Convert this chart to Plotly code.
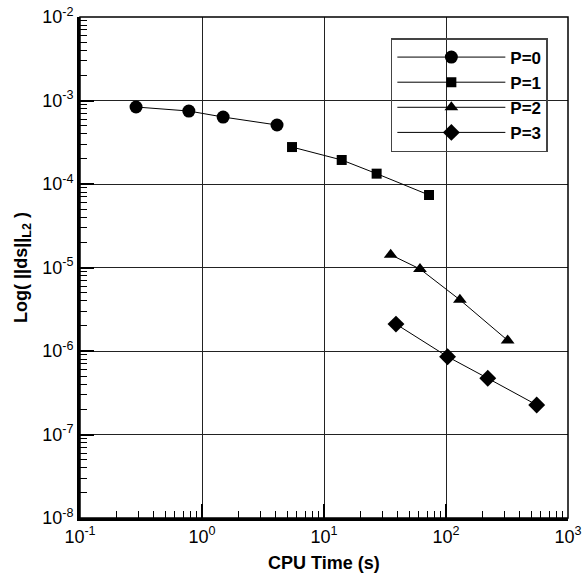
import plotly.graph_objects as go

# data
p0_x = [0.288, 0.78, 1.49, 4.12]
p0_y = [8.36e-4, 7.48e-4, 6.34e-4, 5.09e-4]
p1_x = [5.47, 13.97, 27.0, 72.6]
p1_y = [2.77e-4, 1.94e-4, 1.33e-4, 7.38e-5]
p2_x = [35.2, 61.2, 130.0, 320.0]
p2_y = [1.42e-5, 9.6e-6, 4.1e-6, 1.34e-6]
p3_x = [38.9, 103.0, 220.0, 554.0]
p3_y = [2.10e-6, 8.55e-7, 4.71e-7, 2.26e-7]

x_tickvals = [0.1, 1, 10, 100, 1000]
x_ticktext = ["10<sup>-1</sup>", "10<sup>0</sup>", "10<sup>1</sup>", "10<sup>2</sup>", "10<sup>3</sup>"]
y_tickvals = [1e-8, 1e-7, 1e-6, 1e-5, 1e-4, 1e-3, 1e-2]
y_ticktext = ["10<sup>-8</sup>", "10<sup>-7</sup>", "10<sup>-6</sup>", "10<sup>-5</sup>",
              "10<sup>-4</sup>", "10<sup>-3</sup>", "10<sup>-2</sup>"]

series = [
    ("P=0", p0_x, p0_y, "circle", 13),
    ("P=1", p1_x, p1_y, "square", 10),
    ("P=2", p2_x, p2_y, "triangle-up", 12),
    ("P=3", p3_x, p3_y, "diamond", 13),
]

FONT = "Liberation Sans, Arial, Helvetica, sans-serif"

def minor_vals(decades):
    return [m * 10.0 ** d for d in decades for m in range(2, 10)]

fig = go.Figure()
for name, xs, ys, sym, sz in series:
    fig.add_trace(go.Scatter(
        x=xs, y=ys, name=name, mode="lines+markers",
        line=dict(color="black", width=1),
        marker=dict(symbol=sym, size=sz, color="black"),
    ))

axis_common = dict(
    type="log", automargin=False, ticklabeloverflow="allow",
    showline=True, linecolor="black", linewidth=3,
    showgrid=True, gridcolor="#222222", gridwidth=1,
    ticks="inside", ticklen=14, tickwidth=2, tickcolor="black",
    tickfont=dict(family=FONT, size=18, color="black"),
    zeroline=False,
)

fig.update_layout(
    width=583, height=578,
    margin=dict(l=80, r=15, t=17, b=60),
    plot_bgcolor="white", paper_bgcolor="white",
    font=dict(family=FONT, color="black"),
    showlegend=True,
    legend=dict(
        x=0.637, y=0.958, xanchor="left", yanchor="top",
        bgcolor="rgba(0,0,0,0)", bordercolor="#444444", borderwidth=1.5,
        font=dict(family=FONT, size=17, color="black", weight="bold"),
        tracegroupgap=0, itemwidth=108,
    ),
    xaxis=dict(axis_common, range=[-1, 3], tickvals=x_tickvals, ticktext=x_ticktext,
               minor=dict(tickvals=minor_vals([-1, 0, 1, 2]), ticks="inside", ticklen=7,
                          tickwidth=1, tickcolor="black", showgrid=False)),
    yaxis=dict(axis_common, range=[-8, -2], tickvals=y_tickvals, ticktext=y_ticktext,
               minor=dict(tickvals=minor_vals([-8, -7, -6, -5, -4, -3]), ticks="inside", ticklen=7,
                          tickwidth=1, tickcolor="black", showgrid=False)),
    shapes=[dict(type="rect", xref="paper", yref="paper", x0=0, y0=0, x1=1, y1=1,
                 line=dict(color="black", width=1.5), layer="above")],
    annotations=[
        dict(text="<b>CPU Time (s)</b>", xref="paper", yref="paper", x=0.5, y=-0.09,
             xanchor="center", yanchor="middle", showarrow=False,
             font=dict(family=FONT, size=18, color="black")),
        dict(text="<b>Log( ||ds||<sub>L2</sub> )</b>", xref="paper", yref="paper",
             x=-0.118, y=0.5, xanchor="center", yanchor="middle", textangle=-90,
             showarrow=False, font=dict(family=FONT, size=18, color="black")),
    ],
)

# remove the default page margin so the figure fills the window exactly
fig.write_html("out.html",
               config={"displayModeBar": False},
               post_script="document.body.style.margin='0';document.body.style.overflow='hidden';")
